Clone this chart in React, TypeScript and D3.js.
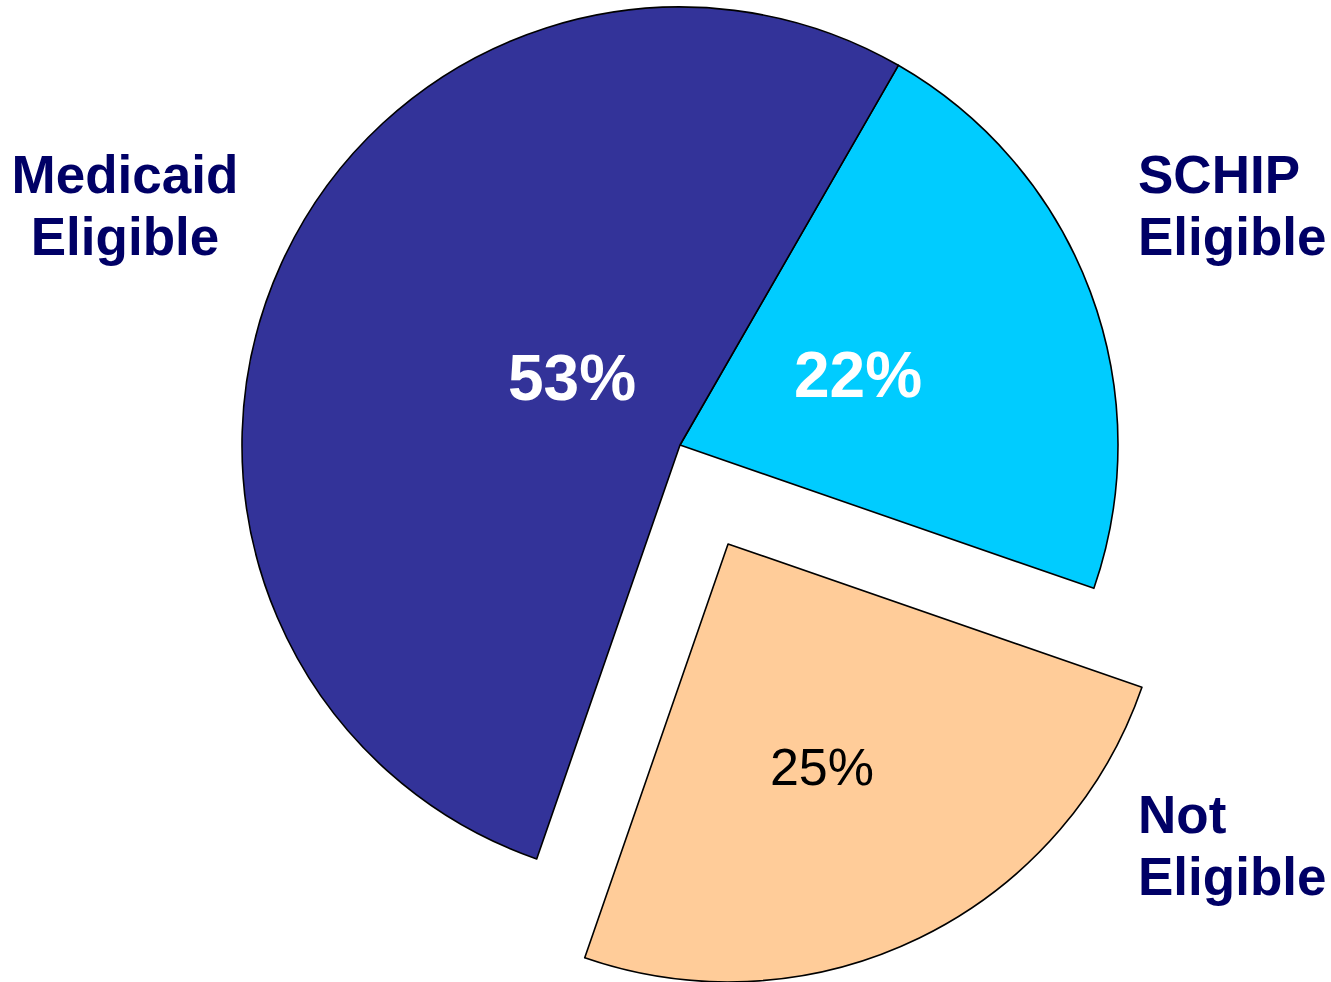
import React from "react";
import * as d3 from "d3";

const categories = ["SCHIP Eligible", "Not Eligible", "Medicaid Eligible"];
const values = [22, 25, 53];
const colors = ["#00CCFF", "#FFCC99", "#333399"];
const explode = [0, 110, 0];

export default function App() {
  const W = 1331, H = 982;
  const cx = 680, cy = 445, R = 438;
  const start = (29.9 * Math.PI) / 180;
  const pie = d3.pie<number>().sort(null).startAngle(start).endAngle(start + 2 * Math.PI);
  const arcs = pie(values);
  const arc = d3.arc<d3.PieArcDatum<number>>().innerRadius(0).outerRadius(R);
  const offs = arcs.map((a, i) => {
    const m = (a.startAngle + a.endAngle) / 2;
    return [Math.sin(m) * explode[i], -Math.cos(m) * explode[i]];
  });
  const font = "Arial, 'Liberation Sans', Helvetica, sans-serif";
  return (
    <div style={{ position: "absolute", left: 0, top: 0 }}>
      <svg width={W} height={H} style={{ display: "block" }}>
        <rect width={W} height={H} fill="#fff" />
        <g transform={`translate(${cx},${cy})`}>
          {arcs.map((a, i) => (
            <path
              key={i}
              d={arc(a) || ""}
              transform={`translate(${offs[i][0]},${offs[i][1]})`}
              fill={colors[i]}
              stroke="#000"
              strokeWidth={1.6}
              strokeLinejoin="round"
            />
          ))}
          <text x={178} y={-48} fontFamily={font} fontWeight="bold" fontSize={64} fill="#fff" textAnchor="middle">
            {values[0]}%
          </text>
          <text x={142} y={340} fontFamily={font} fontSize={52} fill="#000" textAnchor="middle">
            {values[1]}%
          </text>
          <text x={-108} y={-45} fontFamily={font} fontWeight="bold" fontSize={64} fill="#fff" textAnchor="middle">
            {values[2]}%
          </text>
        </g>
        <g fontFamily={font} fontWeight="bold" fontSize={53} fill="#000066">
          <text x={125} y={193} textAnchor="middle">
            <tspan x={125}>{categories[2].split(" ")[0]}</tspan>
            <tspan x={125} dy={62}>{categories[2].split(" ")[1]}</tspan>
          </text>
          <text x={1138} y={193}>
            <tspan x={1138}>{categories[0].split(" ")[0]}</tspan>
            <tspan x={1138} dy={62}>{categories[0].split(" ")[1]}</tspan>
          </text>
          <text x={1138} y={833}>
            <tspan x={1138}>{categories[1].split(" ")[0]}</tspan>
            <tspan x={1138} dy={62}>{categories[1].split(" ")[1]}</tspan>
          </text>
        </g>
      </svg>
    </div>
  );
}
